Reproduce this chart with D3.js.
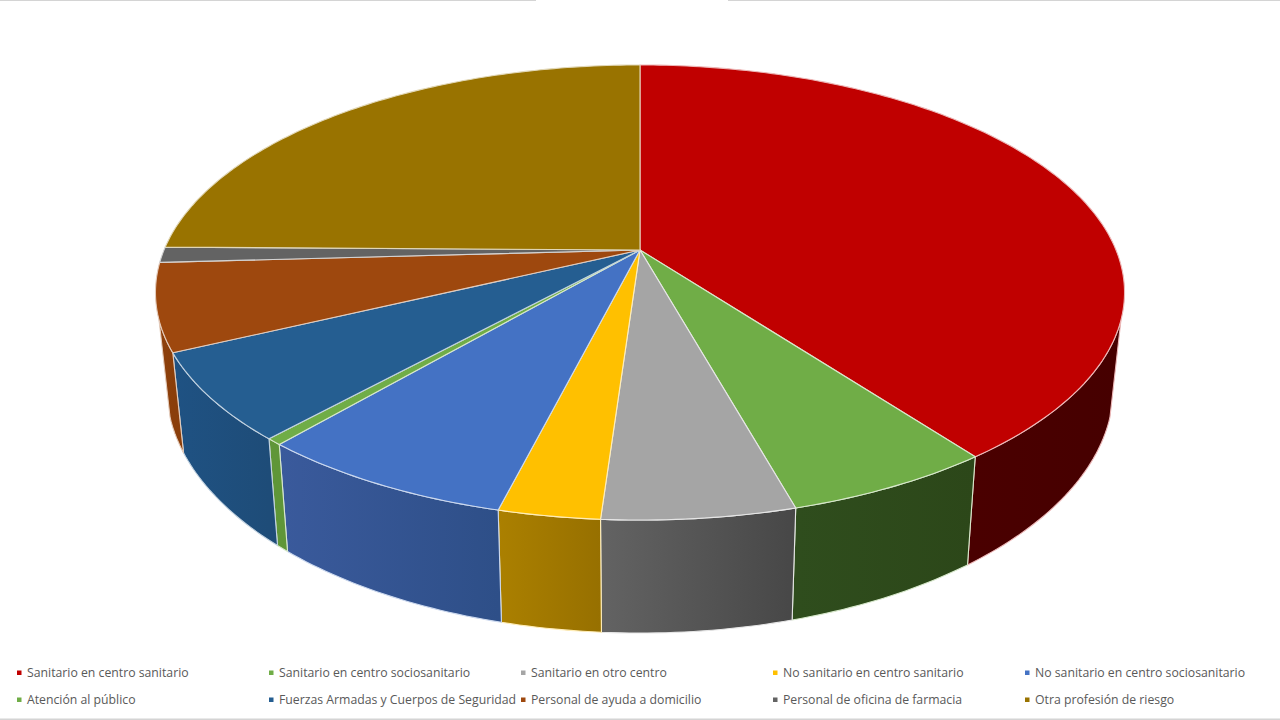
<!DOCTYPE html>
<html>
<head>
<meta charset="utf-8">
<script src="https://cdn.jsdelivr.net/npm/d3@7"></script>
<style>
  html, body { margin: 0; background: #fff; }
  svg { display: block; }
  text { font-family: "Open Sans", sans-serif; font-size: 12.25px; fill: #595959; }
</style>
</head>
<body>
<svg id="chart" width="1280" height="720"></svg>
<script>
'use strict';

const categories = [
    "Sanitario en centro sanitario",
    "Sanitario en centro sociosanitario",
    "Sanitario en otro centro",
    "No sanitario en centro sanitario",
    "No sanitario en centro sociosanitario",
    "Atención al público",
    "Fuerzas Armadas y Cuerpos de Seguridad",
    "Personal de ayuda a domicilio",
    "Personal de oficina de farmacia",
    "Otra profesión de riesgo"
];
const values = [39.8, 5.9, 5.4, 2.85, 7.35, 0.45, 6.2, 6.2, 1.1, 24.8];
const topColors = ["#c00000", "#70ad47", "#a5a5a5", "#ffc000", "#4472c4", "#70ad47", "#255e91", "#9e480e", "#636363", "#997300"];
const sideLeft = ["#4a0000", "#2f4d1d", "#636363", "#ab8000", "#3a5a9c", "#5f9638", "#1f5283", "#8f410c", "#555555", "#7a5c00"];
const sideRight = ["#460000", "#2c4719", "#474747", "#977000", "#2e4f88", "#5f9638", "#1e4c78", "#8a3e0a", "#555555", "#7a5c00"];

const svg = d3.select("#chart");
const defs = svg.append("defs");

// thin grey bits of the screenshot frame
const frame = svg.append("g").attr("fill", "#d4d4d4");
frame.append("rect").attr("x", 0).attr("y", 0).attr("width", 536).attr("height", 1);
frame.append("rect").attr("x", 728).attr("y", 0).attr("width", 552).attr("height", 1);
frame.append("rect").attr("x", 0).attr("y", 718.5).attr("width", 1280).attr("height", 1.5);

// projective map of the unit disc, gives the tilted look with the apex above the ellipse middle
const apexX = 640, apexY = 250;
const tilt = 0.1868, scaleU = 476, scaleV = 219.6;
const wallX = 0.977;
const wallH = d3.scaleLinear().domain([352, 520]).range([100, 113]);
// the wall is only seen between these angles, outside them it is behind the top
const wallFrom = 107.5 * Math.PI / 180, wallTo = 252.5 * Math.PI / 180;

function topPoint(angle) {
    const u = Math.sin(angle), v = -Math.cos(angle);
    const w = 1 - tilt * v;
    return [apexX + scaleU * u / w, apexY + scaleV * v / w];
}

function bottomPoint(angle) {
    const p = topPoint(angle);
    return [apexX + (p[0] - apexX) * wallX, p[1] + wallH(p[1])];
}

function arcAngles(a0, a1) {
    const n = Math.max(2, Math.ceil((a1 - a0) * 60));
    return d3.range(n + 1).map(i => a0 + (a1 - a0) * i / n);
}

const line = d3.line();
const slices = d3.pie().sort(null).value(v => v)(values);

const gWalls = svg.append("g");
const gTops = svg.append("g");

slices.forEach((d, i) => {
    const edge = d3.interpolateRgb(topColors[i], "#ffffff")(0.72);

    const a0 = Math.max(d.startAngle, wallFrom), a1 = Math.min(d.endAngle, wallTo);
    if (a1 > a0) {
        const angles = arcAngles(a0, a1);
        const upper = angles.map(topPoint);
        const lower = angles.map(bottomPoint).reverse();

        const grad = defs.append("linearGradient")
            .attr("id", "wall" + i)
            .attr("gradientUnits", "userSpaceOnUse")
            .attr("x1", d3.min(upper, p => p[0])).attr("y1", 0)
            .attr("x2", d3.max(upper, p => p[0])).attr("y2", 0);
        grad.append("stop").attr("offset", 0).attr("stop-color", sideLeft[i]);
        grad.append("stop").attr("offset", 1).attr("stop-color", sideRight[i]);

        gWalls.append("path")
            .attr("d", line(upper.concat(lower)) + "Z")
            .attr("fill", "url(#wall" + i + ")")
            .attr("stroke", edge)
            .attr("stroke-width", 1.1)
            .attr("stroke-linejoin", "round");
    }

    const rim = arcAngles(d.startAngle, d.endAngle).map(topPoint);
    gTops.append("path")
        .attr("d", line([[apexX, apexY]].concat(rim)) + "Z")
        .attr("fill", topColors[i])
        .attr("stroke", edge)
        .attr("stroke-width", 1.1)
        .attr("stroke-linejoin", "round");
});

// legend, two rows of five
const legendX = d3.scalePoint().domain(d3.range(5)).range([17, 1025]);
const legendY = d3.scalePoint().domain([0, 1]).range([672.5, 699.5]);

const legend = svg.append("g").selectAll("g")
    .data(categories)
    .join("g")
    .attr("transform", (d, i) => `translate(${legendX(i % 5)},${legendY(Math.floor(i / 5))})`);

legend.append("rect")
    .attr("x", 0).attr("y", -2)
    .attr("width", 4.5).attr("height", 4.5)
    .attr("fill", (d, i) => topColors[i]);

legend.append("text")
    .attr("x", 10).attr("y", 0)
    .attr("dy", "0.35em")
    .text(d => d);
</script>
</body>
</html>
